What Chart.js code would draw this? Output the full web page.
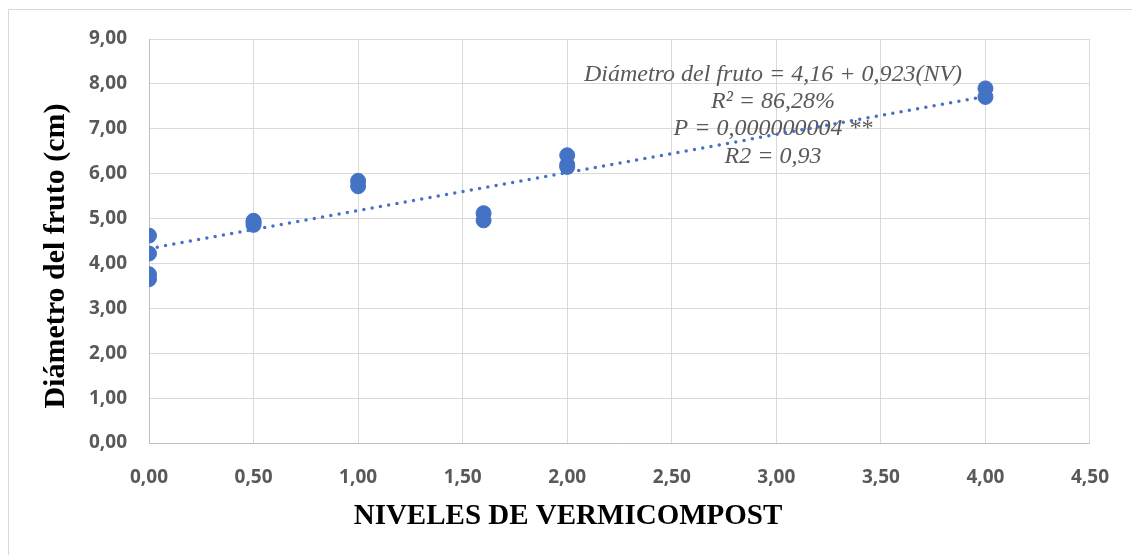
<!DOCTYPE html>
<html>
<head>
<meta charset="utf-8">
<script src="https://cdn.jsdelivr.net/npm/chart.js@4"></script>
<style>
  body { margin: 0; background: #fff; }
  #wrap { width: 1132px; height: 555px; }
</style>
</head>
<body>
<div id="wrap"><canvas id="chart" width="1132" height="555"></canvas></div>
<script>
// niveles de vermicompost y diámetro medido
const nivelesX = [0, 0, 0, 0, 0.5, 0.5, 0.5, 1, 1, 1.6, 1.6, 2, 2, 2, 4, 4];
const diametroY = [4.62, 4.22, 3.76, 3.65, 4.95, 4.91, 4.86, 5.84, 5.72, 5.12, 4.96, 6.41, 6.2, 6.15, 7.9, 7.71];

// línea de tendencia (extremos)
const trendX = [0, 4];
const trendY = [4.33, 7.72];

const xTitle = 'NIVELES DE VERMICOMPOST';
const yTitle = 'Diámetro del fruto (cm)';
const annotationLines = [
  'Diámetro del fruto = 4,16 + 0,923(NV)',
  'R² = 86,28%',
  'P = 0,000000004 **',
  'R2 = 0,93'
];

const blue = '#4472C4';
const tickColor = '#595959';
const fmt = v => Number(v).toFixed(2).replace('.', ',');

// recuadro, títulos de ejes y texto de la ecuación
const extras = {
  id: 'extras',
  beforeDraw(chart) {
    const ctx = chart.ctx;
    ctx.save();
    ctx.strokeStyle = '#d9d9d9';
    ctx.lineWidth = 1;
    ctx.strokeRect(8.5, 9.5, 1200, 600);

    ctx.fillStyle = '#000';
    ctx.textAlign = 'center';
    ctx.textBaseline = 'middle';
    ctx.font = 'bold 29px "Liberation Serif"';
    ctx.fillText(xTitle, 568, 517);
    ctx.translate(56, 256);
    ctx.rotate(-Math.PI / 2);
    ctx.font = 'bold 30px "Liberation Serif"';
    ctx.fillText(yTitle, 0, 0);
    ctx.restore();
  },
  beforeDatasetsDraw(chart) {
    const ctx = chart.ctx;
    ctx.save();
    ctx.font = 'italic 24px "Liberation Serif"';
    ctx.fillStyle = '#595959';
    ctx.textAlign = 'center';
    ctx.textBaseline = 'middle';
    const ys = [75, 102, 129, 157];
    annotationLines.forEach((t, i) => ctx.fillText(t, 773, ys[i]));
    ctx.restore();
  }
};

new Chart(document.getElementById('chart'), {
  type: 'scatter',
  data: {
    datasets: [
      {
        label: 'Diámetro',
        data: nivelesX.map((x, i) => ({ x: x, y: diametroY[i] })),
        backgroundColor: blue,
        borderColor: blue,
        pointRadius: 7.5,
        pointHoverRadius: 7.5,
        order: 0
      },
      {
        label: 'Tendencia',
        type: 'line',
        data: trendX.map((x, i) => ({ x: x, y: trendY[i] })),
        borderColor: blue,
        borderWidth: 3.5,
        borderDash: [0, 8.4],
        borderCapStyle: 'round',
        pointRadius: 0,
        fill: false,
        order: 1
      }
    ]
  },
  options: {
    responsive: false,
    animation: false,
    layout: { padding: { left: 0, top: 39, right: 41, bottom: 0 } },
    plugins: {
      legend: { display: false },
      tooltip: { enabled: false }
    },
    scales: {
      x: {
        type: 'linear',
        min: 0,
        max: 4.5,
        afterFit: s => { s.height = 112; },
        ticks: {
          stepSize: 0.5,
          padding: 23,
          color: tickColor,
          font: { family: '"Open Sans"', weight: 'bold', size: 19 },
          callback: v => fmt(v)
        },
        grid: { color: '#d9d9d9', drawTicks: false },
        border: { color: '#bfbfbf' }
      },
      y: {
        min: 0,
        max: 9,
        afterFit: s => { s.width = 149; },
        ticks: {
          stepSize: 1,
          padding: 22,
          color: tickColor,
          font: { family: '"Open Sans"', weight: 'bold', size: 19 },
          callback: v => fmt(v)
        },
        grid: { color: '#d9d9d9', drawTicks: false },
        border: { color: '#bfbfbf' }
      }
    }
  },
  plugins: [extras]
});
</script>
</body>
</html>
